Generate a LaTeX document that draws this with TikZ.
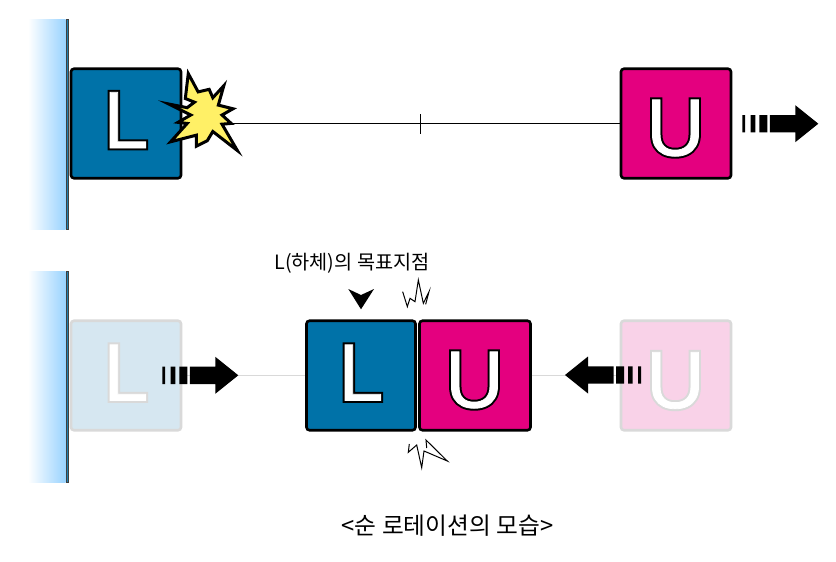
\documentclass[tikz,border=0pt]{standalone}
\usepackage{fontspec}
\setmainfont{Liberation Sans}
\newfontfamily\krfont{Noto Sans CJK KR}
\usetikzlibrary{shadings}
\definecolor{lblue}{HTML}{0072A8}
\definecolor{umag}{HTML}{E4007F}
\definecolor{lbluef}{HTML}{D6E7F1}
\definecolor{umagf}{HTML}{F9D2E8}
\definecolor{fadeg}{HTML}{D9D9D9}
\definecolor{wallb}{HTML}{99D3FF}
\definecolor{wallbar}{HTML}{1E7FB0}
\definecolor{stary}{HTML}{FFF066}
\newcommand{\strokeon}[3]{\special{pdf:code 2 Tr #1 w #2 RG #3 rg}}
\newcommand{\strokeoff}{\special{pdf:code 0 Tr 1 w 0 0 0 RG 0 0 0 rg}}
\newcommand{\solidletter}[1]{\strokeon{4.8}{0 0 0}{0 0 0}\rlap{#1}\strokeon{.8}{1 1 1}{1 1 1}#1\strokeoff}
\newcommand{\fadedletter}[1]{\strokeon{4.8}{.85 .85 .85}{.85 .85 .85}\rlap{#1}\strokeon{.8}{1 1 1}{1 1 1}#1\strokeoff}
\newcommand{\wall}[2]{%
  \shade[left color=white,right color=wallb,shading angle=90] (28,#1) rectangle (65.5,#2);
  \draw[fill=wallbar,draw=black!75,line width=.8pt] (66,#1) rectangle (68.8,#2);}
\newcommand{\dasharrow}[3]{%
  \begin{scope}[shift={(#1,#2)},xscale=#3]
    \fill[black] (0,-8.7) rectangle (2.8,8.7) (8.4,-8.7) rectangle (13,8.7) (17,-8.7) rectangle (25,8.7);
    \fill[black] (27.5,-8.7) -- (53,-8.7) -- (53,-18.5) -- (76,0) -- (53,18.5) -- (53,8.7) -- (27.5,8.7) -- cycle;
  \end{scope}}
\tikzset{
  x=1pt,y=-1pt,
  boxbase/.style={minimum width=110pt,minimum height=109.5pt,inner sep=0pt,rounded corners=3pt,line width=2.6pt,draw=black},
  lbox/.style={boxbase,fill=lblue},
  ubox/.style={boxbase,fill=umag},
  lboxf/.style={boxbase,fill=lbluef,draw=fadeg},
  uboxf/.style={boxbase,fill=umagf,draw=fadeg},
  letter/.style={font=\fontsize{81}{81}\selectfont,inner sep=0pt,anchor=base},
  link/.style={line width=1pt,draw=black},
  linkf/.style={line width=1pt,draw=fadeg},
  spark/.style={line width=1pt,draw=black,miter limit=20,line join=miter},
  label/.style={inner sep=0pt,text=black},
}
\begin{document}
\begin{tikzpicture}
\useasboundingbox (0,0) rectangle (836,562);
\fill[white] (0,0) rectangle (836,562);
% top row
\wall{19.3}{229.5}
\node[lbox] (L1) at (126,123.5) {};
\node[ubox] (U1) at (676,123.5) {};
\draw[link] (L1.east) -- (U1.west);
\coordinate (tick) at (420,123.5);
\draw[link] ([yshift=-10pt]tick) -- ([yshift=10pt]tick);
\node[letter] (L1t) at (126,148) {\solidletter{L}};
\node[letter] (U1t) at (675.5,155.5) {\solidletter{U}};
\begin{scope}[shift={(167,65.5)},scale=.3667]
\draw[line width=3pt,fill=stary,draw=black,miter limit=30,line join=miter]
 (58,22) -- (85,72) -- (115,65) -- (125,88) -- (155,55) -- (140,108) -- (180,118) -- (150,135)
 -- (175,158) -- (150,160) -- (192,232) -- (125,180) -- (110,205) -- (80,220) -- (80,190)
 -- (10,208) -- (55,158) -- (30,155) -- (65,135) -- (5,105) -- (55,115) -- (75,100) -- (50,90) -- cycle;
\end{scope}
\dasharrow{742.3}{123.7}{1}
% bottom row
\wall{271}{482}
\node[lboxf] (L2) at (126,375.5) {};
\node[uboxf] (U2) at (676,375.5) {};
\node[letter] (L2t) at (126,400.5) {\fadedletter{L}};
\node[letter] (U2t) at (675.5,408) {\fadedletter{U}};
\node[lbox,minimum width=109pt] (L3) at (361,375.5) {};
\node[ubox,minimum width=111pt] (U3) at (475,375.5) {};
\draw[linkf] (L2.east) -- (L3.west);
\draw[linkf] (U3.east) -- (U2.west);
\node[letter] (L3t) at (361,400.5) {\solidletter{L}};
\node[letter] (U3t) at (474.5,407.5) {\solidletter{U}};
\dasharrow{162.3}{375.3}{1}
\dasharrow{641}{375}{-1}
\fill[black] (348.3,289) -- (361,295) -- (374,289) -- (361,309.3) -- cycle;
\begin{scope}[shift={(260,245)},scale=1/3]
\draw[spark] (428,140) -- (442,185) -- (450,160) -- (465,170) -- (475,105) -- (490,175) -- (507,140) -- (497,178);
\end{scope}
\draw[spark] (409.3,444) -- (408.3,452.3) -- (416.7,445) -- (421.7,467.7) -- (424,451) -- (447.3,461) -- (426,440) -- (426.7,448);
\node[label,font=\krfont\fontsize{19.7}{20}\selectfont] (cap1) at (352,263) {L(하체)의 목표지점};
\node[label,font=\krfont\fontsize{23.7}{24}\selectfont] (cap2) at (447.5,526) {<순 로테이션의 모습>};
\end{tikzpicture}
\end{document}
